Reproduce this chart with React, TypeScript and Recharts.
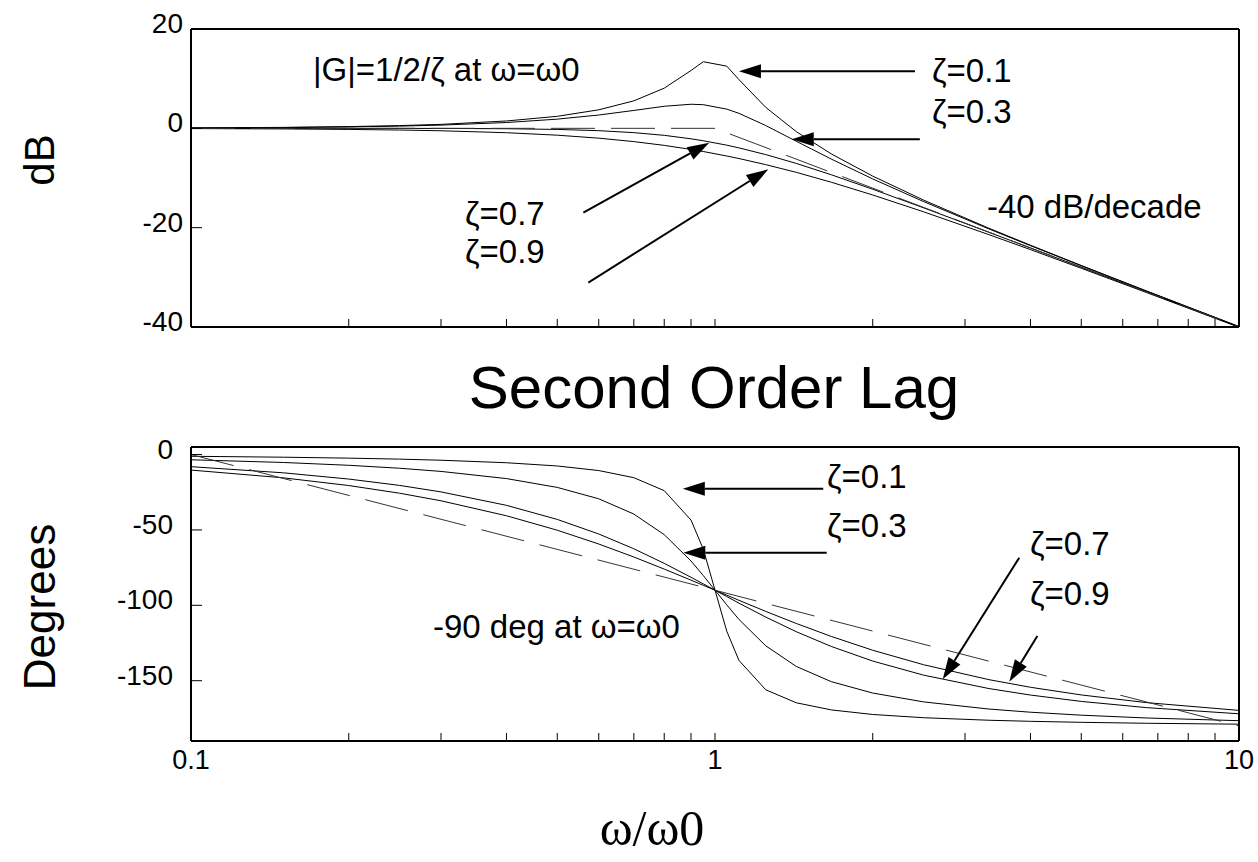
import React from 'react';
import { ComposedChart, Line, XAxis, YAxis, ReferenceLine } from 'recharts';

// frequency points (w / w0)
const omega = [0.1, 0.15, 0.2, 0.25, 0.3, 0.4, 0.5, 0.6, 0.7, 0.8, 0.9, 0.95, 1.053, 1.111, 1.25, 1.429, 1.667, 2, 2.5, 3.333, 4, 5, 6.667, 10];

// gain in dB
const magZ01 = [0.09, 0.19, 0.35, 0.55, 0.8, 1.48, 2.42, 3.73, 5.53, 8.09, 11.64, 13.41, 12.52, 9.81, 4.22, -0.66, -5.15, -9.62, -14.44, -20.12, -23.53, -27.61, -32.76, -39.91];
const magZ03 = [0.07, 0.16, 0.29, 0.45, 0.65, 1.17, 1.85, 2.68, 3.6, 4.44, 4.85, 4.76, 3.87, 3.02, 0.56, -2.6, -6.19, -10.19, -14.74, -20.26, -23.63, -27.67, -32.8, -39.93];
const magZ07 = [0, 0, 0, -0.01, -0.02, -0.08, -0.22, -0.47, -0.87, -1.41, -2.11, -2.5, -3.39, -3.94, -5.29, -7.06, -9.35, -12.26, -16, -20.93, -24.09, -27.96, -32.95, -40];
const magZ09 = [-0.05, -0.12, -0.22, -0.34, -0.49, -0.88, -1.38, -1.98, -2.67, -3.43, -4.25, -4.67, -5.57, -6.08, -7.31, -8.86, -10.85, -13.42, -16.8, -21.41, -24.42, -28.18, -33.08, -40.05];

// phase in degrees
const phaseZ01 = [-1.16, -1.76, -2.39, -3.05, -3.77, -5.44, -7.59, -10.62, -15.35, -23.96, -43.45, -62.83, -117.17, -136.55, -156.04, -164.65, -169.38, -172.41, -174.56, -176.23, -176.95, -177.61, -178.24, -178.84];
const phaseZ03 = [-3.47, -5.26, -7.13, -9.09, -11.19, -15.95, -21.8, -29.36, -39.47, -53.13, -70.62, -80.29, -99.71, -109.38, -126.87, -140.53, -150.64, -158.2, -164.05, -168.81, -170.91, -172.87, -174.74, -176.53];
const phaseZ07 = [-8.05, -12.12, -16.26, -20.47, -24.78, -33.69, -43.03, -52.7, -62.51, -72.18, -81.42, -85.81, -94.19, -98.58, -107.82, -117.49, -127.3, -136.97, -146.31, -155.22, -159.53, -163.74, -167.88, -171.95];
const phaseZ09 = [-10.3, -15.44, -20.56, -25.64, -30.68, -40.6, -50.19, -59.35, -67.96, -75.96, -83.31, -86.74, -93.26, -96.69, -104.04, -112.04, -120.65, -129.81, -139.4, -149.32, -154.36, -159.44, -164.56, -169.7];

// asymptotes (dashed)
const asymW = [0.1, 1, 10];
const magAsym = [0, 0, -40];
const phaseAsym = [0, -90, -180];

const xTicks = [0.1, 0.2, 0.3, 0.4, 0.5, 0.6, 0.7, 0.8, 0.9, 1, 2, 3, 4, 5, 6, 7, 8, 9, 10];
const xLabels = ['0.1', '1', '10'];
const magTicks = [20, 0, -20, -40];
const phaseTicks = [0, -50, -100, -150];

// arrows, in data coordinates [w, value]
const magArrows = [
  { from: [2.408, 11.47], to: [1.111, 11.47] },
  { from: [2.46, -2.21], to: [1.401, -2.21] },
  { from: [0.5607, -16.96], to: [0.9752, -2.88] },
  { from: [0.5731, -31.05], to: [1.264, -8.25] },
];
const phaseArrows = [
  { from: [1.609, -22.7], to: [0.868, -22.7] },
  { from: [1.634, -65.1], to: [0.87, -65.1] },
  { from: [3.808, -68.4], to: [2.72, -149.1] },
  { from: [4.122, -120.4], to: [3.645, -150.7] },
];

const FONT = '"Liberation Sans", Arial, sans-serif';

function buildRows(curves: number[][], asym: number[]) {
  const ws = Array.from(new Set([...omega, ...asymW])).sort((a, b) => a - b);
  return ws.map((w) => {
    const row: any = { w };
    const i = omega.indexOf(w);
    if (i >= 0) curves.forEach((c, k) => (row['z' + k] = c[i]));
    const j = asymW.indexOf(w);
    if (j >= 0) row.asym = asym[j];
    return row;
  });
}

const magRows = buildRows([magZ01, magZ03, magZ07, magZ09], magAsym);
const phaseRows = buildRows([phaseZ01, phaseZ03, phaseZ07, phaseZ09], phaseAsym);

const ArrowShape = (props: any) => {
  const { x1, y1, x2, y2 } = props;
  const a = Math.atan2(y2 - y1, x2 - x1);
  const L = 22, W = 7;
  const bx = x2 - L * Math.cos(a);
  const by = y2 - L * Math.sin(a);
  const pts = [
    [x2, y2],
    [bx + W * Math.sin(a), by - W * Math.cos(a)],
    [bx - W * Math.sin(a), by + W * Math.cos(a)],
  ].map((p) => p.join(',')).join(' ');
  return (
    <g>
      <line x1={x1} y1={y1} x2={bx} y2={by} stroke="#000" strokeWidth={2} />
      <polygon points={pts} fill="#000" />
    </g>
  );
};

const makeXTick = (show: boolean) => (props: any) => {
  const { x, y, payload } = props;
  const label = String(payload.value);
  if (!show || !xLabels.includes(label)) return <g />;
  return (
    <text x={x} y={y + 36} textAnchor="middle" fontSize={27} fontFamily={FONT} fill="#000">
      {label}
    </text>
  );
};

const makeYTick = (gap: number) => (props: any) => {
  const { x, y, payload } = props;
  return (
    <text x={x - gap} y={y + 4} textAnchor="end" fontSize={28} fontFamily={FONT} fill="#000">
      {payload.value}
    </text>
  );
};

const axisLine = { stroke: '#000', strokeWidth: 2 };
const tickLine = { stroke: '#000', strokeWidth: 1 };
const curveKeys = ['z0', 'z1', 'z2', 'z3'];

function BodePanel({ rows, domain, yTicks, arrows, showX, height, margin, labelGap }: any) {
  return (
    <ComposedChart width={1258} height={height} data={rows} margin={margin}>
      <XAxis dataKey="w" type="number" scale="log" domain={[0.1, 10]} ticks={xTicks} interval={0}
        allowDataOverflow height={40} axisLine={axisLine} tickLine={tickLine} tickSize={-8} tickMargin={0}
        tick={makeXTick(showX)} />
      <XAxis xAxisId="top" orientation="top" dataKey="w" type="number" scale="log" domain={[0.1, 10]}
        ticks={xTicks} interval={0} allowDataOverflow height={1} axisLine={axisLine} tickLine={tickLine}
        tickSize={-8} tick={false} />
      <YAxis type="number" domain={domain} ticks={yTicks} interval={0} allowDataOverflow width={60}
        axisLine={axisLine} tickLine={tickLine} tickSize={-11} tickMargin={0} tick={makeYTick(labelGap)} />
      <YAxis yAxisId="r" orientation="right" type="number" domain={domain} ticks={yTicks} interval={0}
        allowDataOverflow width={1} axisLine={axisLine} tickLine={tickLine} tickSize={-11} tick={false} />
      {curveKeys.map((k) => (
        <Line key={k} dataKey={k} type="linear" stroke="#000" strokeWidth={1} dot={false}
          connectNulls isAnimationActive={false} />
      ))}
      <Line dataKey="asym" type="linear" stroke="#333" strokeWidth={1} strokeDasharray="44 16"
        dot={false} connectNulls isAnimationActive={false} />
      {arrows.map((a: any, i: number) => (
        <ReferenceLine key={i} ifOverflow="visible"
          segment={[{ x: a.from[0], y: a.from[1] }, { x: a.to[0], y: a.to[1] }]}
          shape={ArrowShape} />
      ))}
    </ComposedChart>
  );
}

const annoStyle = { fontFamily: FONT, fontSize: 33, fill: '#000' };

export default function App() {
  return (
    <div style={{ position: 'absolute', left: 0, top: 0, width: 1258, height: 862, background: '#fff', overflow: 'hidden' }}>
      <div style={{ position: 'absolute', left: 0, top: 0 }}>
        <BodePanel rows={magRows} domain={[-40, 20]} yTicks={magTicks} arrows={magArrows} showX={false}
          height={380} margin={{ top: 28, right: 18, bottom: 13, left: 131 }} labelGap={19} />
      </div>
      <div style={{ position: 'absolute', left: 0, top: 400 }}>
        <BodePanel rows={phaseRows} domain={[-190, 5]} yTicks={phaseTicks} arrows={phaseArrows} showX
          height={420} margin={{ top: 46, right: 18, bottom: 39, left: 131 }} labelGap={29} />
      </div>
      <svg width={1258} height={862} style={{ position: 'absolute', left: 0, top: 0, pointerEvents: 'none' }}>
        <text x={313} y={81} {...annoStyle}>|G|=1/2/ζ at ω=ω0</text>
        <text x={932} y={82} {...annoStyle}>ζ=0.1</text>
        <text x={932} y={123} {...annoStyle}>ζ=0.3</text>
        <text x={987} y={218} {...annoStyle}>-40 dB/decade</text>
        <text x={465} y={225} {...annoStyle}>ζ=0.7</text>
        <text x={465} y={263} {...annoStyle}>ζ=0.9</text>
        <text x={714} y={408} textAnchor="middle" fontFamily={FONT} fontSize={60}>Second Order Lag</text>
        <text x={827} y={488} {...annoStyle}>ζ=0.1</text>
        <text x={827} y={537} {...annoStyle}>ζ=0.3</text>
        <text x={1030} y={555} {...annoStyle}>ζ=0.7</text>
        <text x={1030} y={605} {...annoStyle}>ζ=0.9</text>
        <text x={433} y={638} {...annoStyle}>-90 deg at ω=ω0</text>
        <text transform="translate(54,160) rotate(-90)" textAnchor="middle" fontFamily={FONT} fontSize={42}>dB</text>
        <text transform="translate(55,607) rotate(-90)" textAnchor="middle" fontFamily={FONT} fontSize={44}>Degrees</text>
        <text x={652} y={845} textAnchor="middle" fontFamily='"Liberation Serif", "Times New Roman", serif' fontSize={50}>ω/ω0</text>
      </svg>
    </div>
  );
}
